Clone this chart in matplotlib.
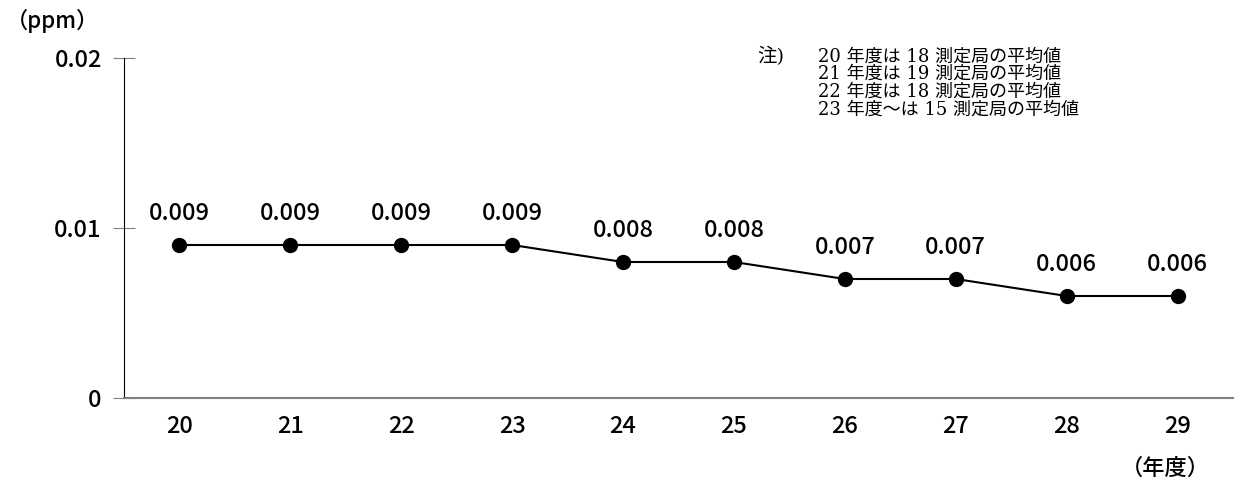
import matplotlib.pyplot as plt

plt.rcParams['font.family'] = ['Noto Sans CJK JP', 'DejaVu Sans']

years = ['20', '21', '22', '23', '24', '25', '26', '27', '28', '29']
values = [0.009, 0.009, 0.009, 0.009, 0.008, 0.008, 0.007, 0.007, 0.006, 0.006]
value_labels = ['0.009', '0.009', '0.009', '0.009', '0.008', '0.008', '0.007', '0.007', '0.006', '0.006']
yticks = [0, 0.01, 0.02]
ytick_labels = ['0', '0.01', '0.02']
note_lines = ['20 年度は 18 測定局の平均値',
              '21 年度は 19 測定局の平均値',
              '22 年度は 18 測定局の平均値',
              '23 年度～は 15 測定局の平均値']

fig = plt.figure(figsize=(12.37, 4.88), dpi=100)
ax = fig.add_axes([124 / 1237, 90 / 488, 1109 / 1237, 340 / 488])

x = list(range(len(years)))
ax.plot(x, values, color='black', linewidth=1.5, marker='o', markersize=10)
for xi, v, lab in zip(x, values, value_labels):
    ax.annotate(lab, (xi, v), xytext=(0, 23), textcoords='offset points',
                ha='center', va='center', fontsize=17, fontweight='medium')

ax.set_xlim(-0.5, len(years) - 0.5)
ax.set_ylim(0, 0.02)
ax.set_xticks(x)
ax.set_xticklabels(years, fontsize=17, fontweight='medium')
ax.set_yticks(yticks)
ax.set_yticklabels(ytick_labels, fontsize=17, fontweight='medium')
ax.tick_params(axis='x', length=0, pad=12)
ax.tick_params(axis='y', direction='inout', length=16, color='#808080', pad=8)

for s in ['top', 'right']:
    ax.spines[s].set_visible(False)
ax.spines['left'].set_color('black')
ax.spines['bottom'].set_color('#808080')
ax.spines['bottom'].set_linewidth(1.5)

fig.text(6 / 1237, 1 - 21 / 488, '（ppm）', fontsize=16, va='center', ha='left', fontweight='medium')
fig.text(1165 / 1237, 1 - 468 / 488, '（年度）', fontsize=16, va='center', ha='center', fontweight='medium')

note_font = ['DejaVu Serif', 'Noto Sans CJK JP']
fig.text(757 / 1237, 1 - 56 / 488, '注)', fontsize=14, va='center', ha='left', family=note_font)
fig.text(818 / 1237, 1 - 83 / 488, '\n'.join(note_lines), fontsize=13, va='center', ha='left',
         linespacing=0.98, family=note_font)

fig.savefig('out.png', dpi=100)
